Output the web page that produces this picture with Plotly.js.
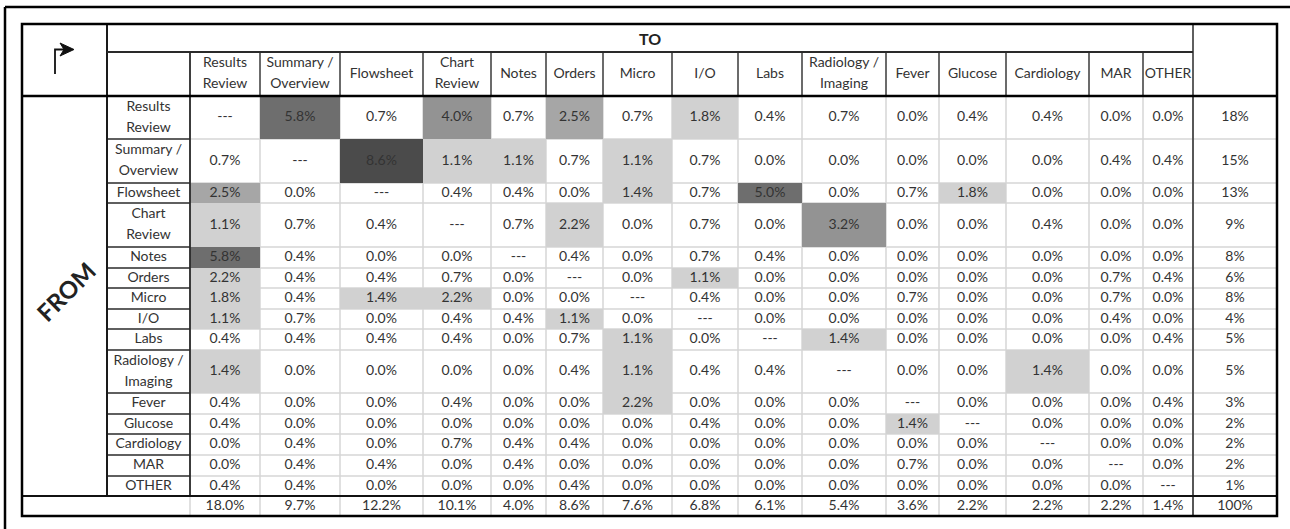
<!DOCTYPE html>
<html>
<head>
<meta charset="utf-8">
<script src="https://cdn.plot.ly/plotly-3.0.1.min.js"></script>
<style>html,body{margin:0;padding:0;background:#fff;}#chart{width:1290px;height:529px;}</style>
</head>
<body>
<div id="chart"></div>
<script>
// ---------------- DATA ----------------
const fromLabels = ["Results\nReview","Summary /\nOverview","Flowsheet","Chart\nReview","Notes","Orders","Micro","I/O","Labs","Radiology /\nImaging","Fever","Glucose","Cardiology","MAR","OTHER"];
const toLabels   = ["Results\nReview","Summary /\nOverview","Flowsheet","Chart\nReview","Notes","Orders","Micro","I/O","Labs","Radiology /\nImaging","Fever","Glucose","Cardiology","MAR","OTHER"];

// transition share (%) FROM row TO column; null = same screen (---)
const rowResultsReview = [null,5.8,0.7,4.0,0.7,2.5,0.7,1.8,0.4,0.7,0.0,0.4,0.4,0.0,0.0];
const rowSummary       = [0.7,null,8.6,1.1,1.1,0.7,1.1,0.7,0.0,0.0,0.0,0.0,0.0,0.4,0.4];
const rowFlowsheet     = [2.5,0.0,null,0.4,0.4,0.0,1.4,0.7,5.0,0.0,0.7,1.8,0.0,0.0,0.0];
const rowChartReview   = [1.1,0.7,0.4,null,0.7,2.2,0.0,0.7,0.0,3.2,0.0,0.0,0.4,0.0,0.0];
const rowNotes         = [5.8,0.4,0.0,0.0,null,0.4,0.0,0.7,0.4,0.0,0.0,0.0,0.0,0.0,0.0];
const rowOrders        = [2.2,0.4,0.4,0.7,0.0,null,0.0,1.1,0.0,0.0,0.0,0.0,0.0,0.7,0.4];
const rowMicro         = [1.8,0.4,1.4,2.2,0.0,0.0,null,0.4,0.0,0.0,0.7,0.0,0.0,0.7,0.0];
const rowIO            = [1.1,0.7,0.0,0.4,0.4,1.1,0.0,null,0.0,0.0,0.0,0.0,0.0,0.4,0.0];
const rowLabs          = [0.4,0.4,0.4,0.4,0.0,0.7,1.1,0.0,null,1.4,0.0,0.0,0.0,0.0,0.4];
const rowRadiology     = [1.4,0.0,0.0,0.0,0.0,0.4,1.1,0.4,0.4,null,0.0,0.0,1.4,0.0,0.0];
const rowFever         = [0.4,0.0,0.0,0.4,0.0,0.0,2.2,0.0,0.0,0.0,null,0.0,0.0,0.0,0.4];
const rowGlucose       = [0.4,0.0,0.0,0.0,0.0,0.0,0.0,0.4,0.0,0.0,1.4,null,0.0,0.0,0.0];
const rowCardiology    = [0.0,0.4,0.0,0.7,0.4,0.4,0.0,0.0,0.0,0.0,0.0,0.0,null,0.0,0.0];
const rowMAR           = [0.0,0.4,0.4,0.0,0.4,0.0,0.0,0.0,0.0,0.0,0.7,0.0,0.0,null,0.0];
const rowOther         = [0.4,0.4,0.0,0.0,0.0,0.4,0.0,0.0,0.0,0.0,0.0,0.0,0.0,0.0,null];

const rowTotals = [18,15,13,9,8,6,8,4,5,5,3,2,2,2,1];
const colTotals = [18.0,9.7,12.2,10.1,4.0,8.6,7.6,6.8,6.1,5.4,3.6,2.2,2.2,2.2,1.4];
const grandTotal = 100;

const matrix = [rowResultsReview,rowSummary,rowFlowsheet,rowChartReview,rowNotes,rowOrders,rowMicro,rowIO,rowLabs,rowRadiology,rowFever,rowGlucose,rowCardiology,rowMAR,rowOther];

// ---------------- LAYOUT (pixels) ----------------
const W = 1290, H = 529;
const tableLeft = 22, tableRight = 1277, tableTop = 24, tableBottom = 516;
const fromColRight = 107, labelColRight = 190;
const toRowBottom = 52, headerBottom = 96;
const colWidths = [70,80,83,68,55,57,69,66,64,84,53,67,83,54,50];
const rowHeights = [43,44,20,44,21,20,21,20,21,43,21,20,21,21,20];
const lineGap = 21;

const xEdges = [labelColRight];
colWidths.forEach(w => xEdges.push(xEdges[xEdges.length-1] + w));
const yEdges = [headerBottom];
rowHeights.forEach(h => yEdges.push(yEdges[yEdges.length-1] + h));
const totalColLeft = xEdges[xEdges.length-1];
const totalsRowTop = yEdges[yEdges.length-1];

const xc = i => (xEdges[i] + xEdges[i+1]) / 2;
const yc = j => (yEdges[j] + yEdges[j+1]) / 2;

// ---------------- TRACES ----------------
const zmax = 9;
const cut = v => v / zmax;
const clear = 'rgba(255,255,255,0)';
const colorscale = [
  [0, clear],[cut(1.0), clear],
  [cut(1.0), '#d1d1d1'],[cut(2.35), '#d1d1d1'],
  [cut(2.35), '#a6a6a6'],[cut(3.0), '#a6a6a6'],
  [cut(3.0), '#939393'],[cut(4.5), '#939393'],
  [cut(4.5), '#6e6e6e'],[cut(7.0), '#6e6e6e'],
  [cut(7.0), '#4b4b4b'],[1, '#4b4b4b']
];

const heat = {
  type: 'heatmap',
  x: xEdges, y: yEdges, z: matrix,
  zmin: 0, zmax: zmax, colorscale: colorscale,
  showscale: false, hoverinfo: 'skip', xgap: 0, ygap: 0
};

const font = 'Lato, "Open Sans", sans-serif';
const txtColor = '#333333';
const tx = [], ty = [], tt = [];
function addLabel(x, y, label) {
  const lines = label.split('\n');
  lines.forEach((ln, k) => {
    tx.push(x);
    ty.push(y + (k - (lines.length - 1) / 2) * lineGap);
    tt.push(ln);
  });
}
// cell values
matrix.forEach((row, j) => row.forEach((v, i) => {
  addLabel(xc(i), yc(j), v === null ? '---' : v.toFixed(1) + '%');
}));
// row labels
fromLabels.forEach((lab, j) => addLabel((fromColRight + labelColRight) / 2, yc(j), lab));
// column labels
toLabels.forEach((lab, i) => addLabel(xc(i), (toRowBottom + headerBottom) / 2, lab));
// row totals
rowTotals.forEach((v, j) => addLabel((totalColLeft + tableRight) / 2, yc(j), v + '%'));
// column totals
colTotals.forEach((v, i) => addLabel(xc(i), (totalsRowTop + tableBottom) / 2, v.toFixed(1) + '%'));
addLabel((totalColLeft + tableRight) / 2, (totalsRowTop + tableBottom) / 2, grandTotal + '%');

const texts = {
  type: 'scatter', mode: 'text', x: tx, y: ty, text: tt,
  textposition: 'middle center',
  textfont: {family: font, size: 14, color: txtColor},
  hoverinfo: 'skip', showlegend: false
};

// ---------------- SHAPES ----------------
const shapes = [];
function line(x0, y0, x1, y1, color, width, layer) {
  shapes.push({type: 'line', xref: 'x', yref: 'y', x0, y0, x1, y1,
    line: {color, width}, layer: layer || 'above'});
}
const light = '#d6d6d6';
// light grid (under the shading)
xEdges.forEach(x => line(x, headerBottom, x, tableBottom, light, 1.5, 'below'));
yEdges.slice(1, -1).forEach(y => line(labelColRight, y, tableRight, y, light, 1.5, 'below'));
// row label boxes
yEdges.slice(1, -1).forEach(y => line(fromColRight, y, labelColRight, y, '#2a2a2a', 1.5));
line(labelColRight, toRowBottom, labelColRight, totalsRowTop, '#2a2a2a', 1.8);
line(fromColRight, tableTop, fromColRight, totalsRowTop, '#1a1a1a', 2);
// column header boxes
xEdges.slice(1, -1).forEach(x => line(x, toRowBottom, x, headerBottom, '#3a3a3a', 1.5));
line(fromColRight, toRowBottom, totalColLeft, toRowBottom, '#2a2a2a', 1.8);
line(totalColLeft, tableTop, totalColLeft, tableBottom, '#2a2a2a', 1.5);
// heavy rules
line(tableLeft, headerBottom, tableRight, headerBottom, '#000', 2.5);
line(tableLeft, totalsRowTop, tableRight, totalsRowTop, '#111', 2);
shapes.push({type: 'rect', xref: 'x', yref: 'y', x0: tableLeft, y0: tableTop, x1: tableRight, y1: tableBottom,
  line: {color: '#000', width: 2.5}, layer: 'above'});
// page frame
line(5, 7, W + 5, 7, '#000', 2.5);
line(5, 7, 5, H + 5, '#000', 2.5);
// corner arrow (stem + head)
shapes.push({type: 'path', xref: 'x', yref: 'y', path: 'M 55 74 L 55 49.5 L 66 49.5',
  line: {color: '#111', width: 1.8}, layer: 'above'});
shapes.push({type: 'path', xref: 'x', yref: 'y', path: 'M 60 43 L 74 49.5 L 60 56 L 64 49.5 Z',
  fillcolor: '#111', line: {color: '#111', width: 1}, layer: 'above'});

// ---------------- ANNOTATIONS ----------------
const annotations = [
  {x: (fromColRight + totalColLeft) / 2, y: (tableTop + toRowBottom) / 2, xref: 'x', yref: 'y',
   text: '<b>TO</b>', showarrow: false, font: {family: font, size: 16, color: '#222'}},
  {x: (tableLeft + fromColRight) / 2 + 1, y: 291, xref: 'x', yref: 'y',
   text: '<b>FROM</b>', showarrow: false, textangle: -45, font: {family: font, size: 24, color: '#222'}}
];

const layout = {
  width: W, height: H,
  margin: {l: 0, r: 0, t: 0, b: 0, pad: 0},
  paper_bgcolor: '#fff', plot_bgcolor: '#fff',
  xaxis: {range: [0, W], visible: false, fixedrange: true},
  yaxis: {range: [H, 0], visible: false, fixedrange: true},
  shapes: shapes, annotations: annotations, showlegend: false
};

Plotly.newPlot('chart', [heat, texts], layout, {displayModeBar: false, staticPlot: true});
</script>
</body>
</html>
